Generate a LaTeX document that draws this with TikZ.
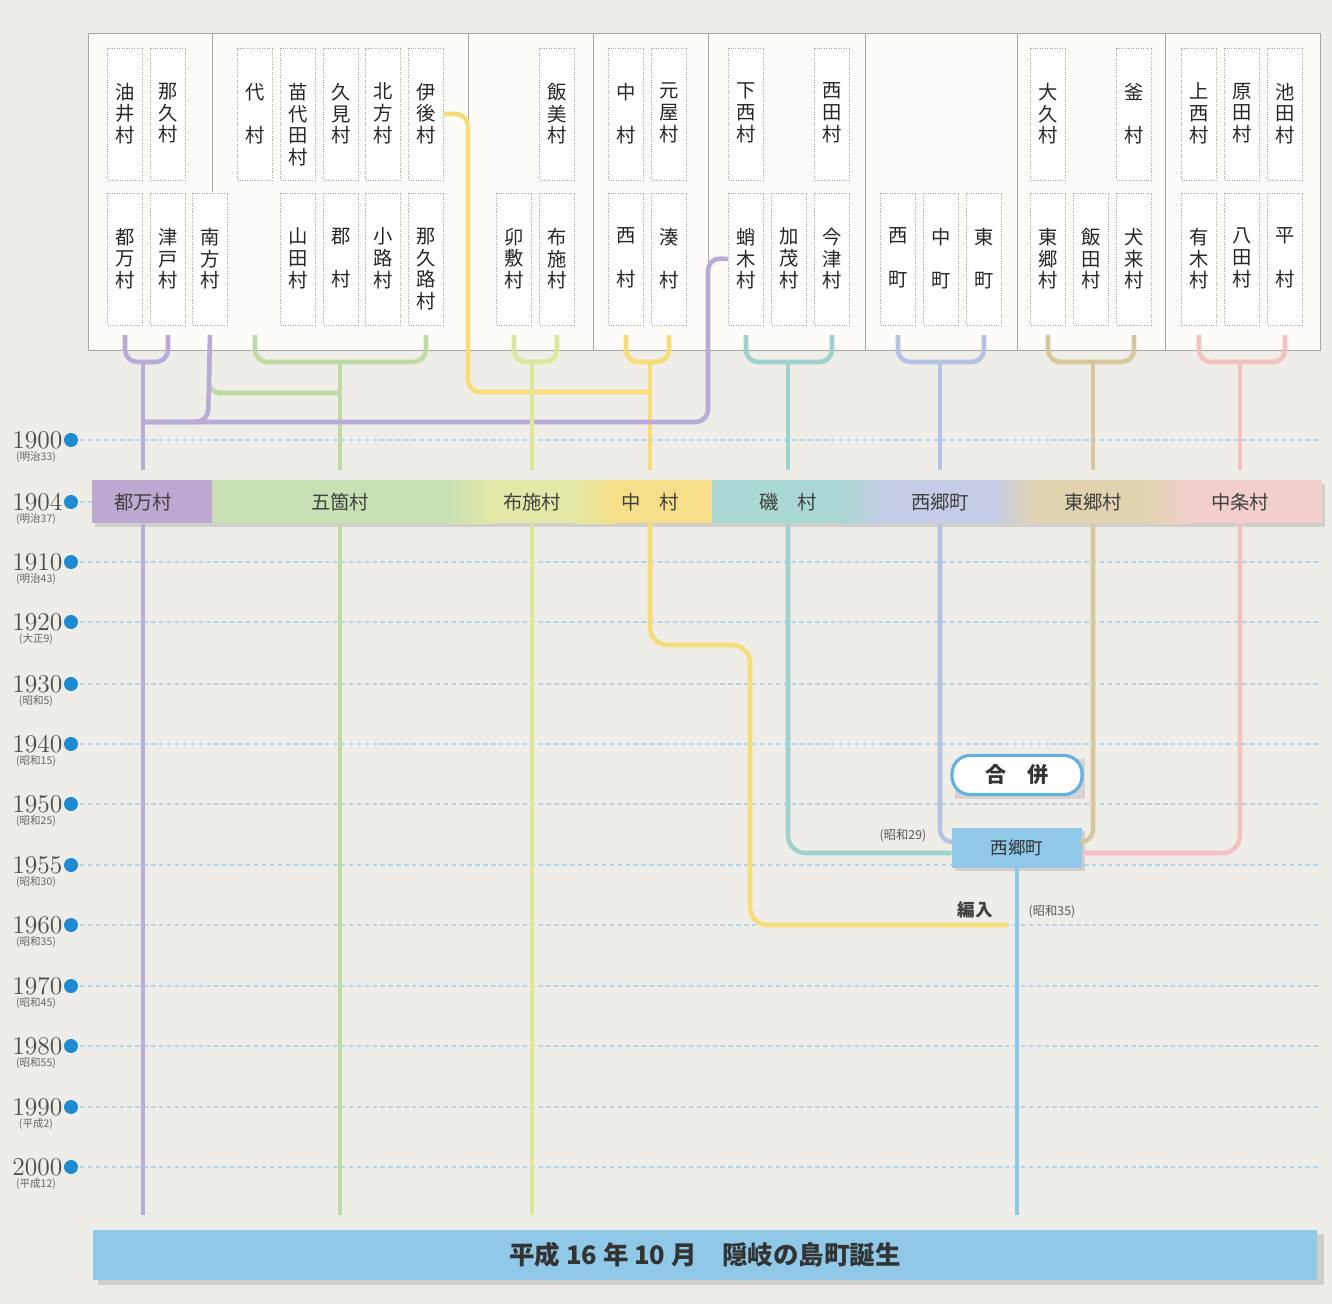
\documentclass[tikz,border=0pt]{standalone}
\usepackage{fontspec}
\newfontfamily\jp{Noto Sans CJK JP}
\usetikzlibrary{calc,positioning}

\definecolor{bgc}{HTML}{EFEDE8}
\definecolor{panelc}{HTML}{FDFCF8}
\definecolor{framec}{HTML}{A8A59E}
\definecolor{tsumaL}{HTML}{B9AAD6}
\definecolor{tsumaB}{HTML}{BBA9D2}
\definecolor{gokaL}{HTML}{BFDBA3}
\definecolor{gokaB}{HTML}{C8E0B4}
\definecolor{fuseL}{HTML}{DFE69B}
\definecolor{fuseB}{HTML}{E4E8A6}
\definecolor{nakaL}{HTML}{F6DD78}
\definecolor{nakaB}{HTML}{F7DE88}
\definecolor{isoL}{HTML}{9FD1CD}
\definecolor{isoB}{HTML}{AAD8D3}
\definecolor{saigoL}{HTML}{B6C2E2}
\definecolor{saigoB}{HTML}{C5CDE6}
\definecolor{togoL}{HTML}{D6C89C}
\definecolor{togoB}{HTML}{E2D3AF}
\definecolor{chujoL}{HTML}{F1C2C0}
\definecolor{chujoB}{HTML}{F2CFCD}
\definecolor{okiL}{HTML}{8CC8E8}
\definecolor{okiB}{HTML}{8FC9E7}
\definecolor{dotc}{HTML}{1D8AD2}
\definecolor{gridc}{HTML}{B0D5EA}

\tikzset{
  vill/.style={draw=black!35, densely dotted, fill=white, minimum width=0.7cm, minimum height=2.64cm, inner sep=0, label={[vtext]north:{#1}}},
  vtext/.style={anchor=north, yshift=-0.7cm, inner sep=0, align=center, font=\jp\fontsize{11}{12.4}\selectfont, text=black!85},
  ln/.style={line width=2.6pt, draw=#1, rounded corners=7pt},
  yline/.style={draw=gridc, line width=0.7pt, dash pattern=on 2.5pt off 2pt},
  ydot/.style={circle, fill=dotc, minimum size=0.28cm, inner sep=0},
  ylab/.style={font=\fontsize{14.5}{14.5}\selectfont, text=black!70, inner sep=0.5pt},
  elab/.style={font=\jp\fontsize{6}{6}\selectfont, text=black!60, inner sep=0},
  barlab/.style={font=\jp\fontsize{11}{11}\selectfont, text=black!75, minimum height=0.86cm, inner sep=0},
  note/.style={font=\jp\fontsize{7}{7}\selectfont, text=black!65, inner sep=0},
}

\begin{document}
\begin{tikzpicture}[x=0.02cm,y=-0.02cm]

\fill[bgc] (0,0) rectangle (1332,1304);
\useasboundingbox (0,0) rectangle (1332,1304);

% year rows
\foreach \yy/\yr/\era in {440/1900/明治33,502/1904/明治37,562/1910/明治43,622/1920/大正9,684/1930/昭和5,744/1940/昭和15,804/1950/昭和25,865/1955/昭和30,925/1960/昭和35,986/1970/昭和45,1046/1980/昭和55,1107/1990/平成2,1167/2000/平成12}{
  \draw[yline] (80,\yy) -- (1318,\yy);
  \node[ydot] (d\yr) at (71,\yy) {};
  \node[ylab, anchor=east] (t\yr) at (d\yr.west) {\yr};
  \node[elab] (e\yr) at (36,\yy+17) {(\era)};
}

% village panel
\draw[framec, fill=panelc] (88,33) rectangle (1320,350);
\draw[framec] (212,33) -- (212,192);
\foreach \xx in {468,593,708,865,1017,1165}
  \draw[framec] (\xx,33) -- (\xx,350);

\node[vill={油\\井\\村}] (yui) at (125,114) {};
\node[vill={那\\久\\村}] (naku) at (168,114) {};
\node[vill={都\\万\\村}] (tsuma) at (125,259) {};
\node[vill={津\\戸\\村}] (tsudo) at (168,259) {};
\node[vill={南\\方\\村}] (minami) at (210,259) {};

\node[vill={代\\[12.4pt]村}] (dai) at (255,114) {};
\node[vill={苗\\代\\田\\村}] (nawashiro) at (298,114) {};
\node[vill={久\\見\\村}] (kumi) at (341,114) {};
\node[vill={北\\方\\村}] (kitagata) at (383,114) {};
\node[vill={伊\\後\\村}] (igo) at (426,114) {};
\node[vill={山\\田\\村}] (yamada) at (298,259) {};
\node[vill={郡\\[12.4pt]村}] (kori) at (341,259) {};
\node[vill={小\\路\\村}] (shoji) at (383,259) {};
\node[vill={那\\久\\路\\村}] (nakuji) at (426,259) {};

\node[vill={飯\\美\\村}] (iibi) at (557,114) {};
\node[vill={卯\\敷\\村}] (ubuka) at (514,259) {};
\node[vill={布\\施\\村}] (fuse) at (557,259) {};

\node[vill={中\\[12.4pt]村}] (naka) at (626,114) {};
\node[vill={元\\屋\\村}] (motoya) at (669,114) {};
\node[vill={西\\[12.4pt]村}] (nishi) at (626,259) {};
\node[vill={湊\\[12.4pt]村}] (minato) at (669,259) {};

\node[vill={下\\西\\村}] (shimonishi) at (746,114) {};
\node[vill={西\\田\\村}] (nishida) at (832,114) {};
\node[vill={蛸\\木\\村}] (takogi) at (746,259) {};
\node[vill={加\\茂\\村}] (kamo) at (789,259) {};
\node[vill={今\\津\\村}] (imazu) at (832,259) {};

\node[vill={西\\[12.4pt]町}] (nishimachi) at (898,259) {};
\node[vill={中\\[12.4pt]町}] (nakamachi) at (941,259) {};
\node[vill={東\\[12.4pt]町}] (higashimachi) at (984,259) {};

\node[vill={大\\久\\村}] (oku) at (1048,114) {};
\node[vill={釜\\[12.4pt]村}] (kama) at (1134,114) {};
\node[vill={東\\郷\\村}] (togo) at (1048,259) {};
\node[vill={飯\\田\\村}] (iida) at (1091,259) {};
\node[vill={犬\\来\\村}] (inukuru) at (1134,259) {};

\node[vill={上\\西\\村}] (kaminishi) at (1199,114) {};
\node[vill={原\\田\\村}] (harada) at (1242,114) {};
\node[vill={池\\田\\村}] (ikeda) at (1285,114) {};
\node[vill={有\\木\\村}] (ariki) at (1199,259) {};
\node[vill={八\\田\\村}] (hatta) at (1242,259) {};
\node[vill={平\\[12.4pt]村}] (taira) at (1285,259) {};

% 1904 bar
\fill[black!40, opacity=.35] (95,484) rectangle (1325,527);
\fill[tsumaB] (92,480) rectangle (212,523);
\fill[gokaB] (212,480) rectangle (470,523);
\fill[fuseB] (470,480) rectangle (595,523);
\fill[nakaB] (595,480) rectangle (712,523);
\fill[isoB] (712,480) rectangle (862,523);
\fill[saigoB] (862,480) rectangle (1015,523);
\fill[togoB] (1015,480) rectangle (1168,523);
\fill[chujoB] (1168,480) rectangle (1322,523);
\shade[left color=gokaB, right color=fuseB] (445,480) rectangle (495,523);
\shade[left color=fuseB, right color=nakaB] (575,480) rectangle (615,523);
\shade[left color=isoB, right color=saigoB] (840,480) rectangle (885,523);
\shade[left color=saigoB, right color=togoB] (995,480) rectangle (1035,523);
\shade[left color=togoB, right color=chujoB] (1148,480) rectangle (1188,523);

\node[barlab] (bTsuma) at (143,502) {都万村};
\node[barlab] (bGoka) at (340,502) {五箇村};
\node[barlab] (bFuse) at (532,502) {布施村};
\node[barlab] (bNaka) at (650,502) {中\quad 村};
\node[barlab] (bIso) at (788,502) {磯\quad 村};
\node[barlab] (bSaigo) at (940,502) {西郷町};
\node[barlab] (bTogo) at (1093,502) {東郷村};
\node[barlab] (bChujo) at (1240,502) {中条村};

% joins under the panel
\coordinate (jTsuma) at (143,362);
\coordinate (jGoka) at (340,362);
\coordinate (jFuse) at (532,362);
\coordinate (jNaka) at (650,362);
\coordinate (jIso) at (788,362);
\coordinate (jSaigo) at (940,362);
\coordinate (jTogo) at (1093,362);
\coordinate (jChujo) at (1240,362);

\draw[ln=gokaL] (minami |- 0,362) -- (208,393) -- (jGoka |- 0,393); % 南方 to 五箇
\draw[ln=gokaL] (dai |- 0,335) -- (dai |- jGoka) -- (nakuji |- jGoka) -- (nakuji |- 0,335);
\draw[ln=gokaL] (jGoka) -- ($(bGoka.north)+(0,-10)$);

\draw[ln=nakaL] (igo.east) -- (468,114) -- (468,392) -- (jNaka |- 0,392); % 伊後 to 中村
\draw[ln=nakaL] (naka |- 0,335) -- (naka |- jNaka) -- (motoya |- jNaka) -- (motoya |- 0,335);
\draw[ln=nakaL] (jNaka) -- ($(bNaka.north)+(0,-10)$);

\draw[ln=tsumaL] (takogi.west) -- (708,258) -- (708,422) -- (jTsuma |- 0,422); % 蛸木 to 都万
\draw[ln=tsumaL] (minami |- 0,335) -- (208,422) -- (jTsuma |- 0,422);
\draw[ln=tsumaL] (tsuma |- 0,335) -- (tsuma |- jTsuma) -- (tsudo |- jTsuma) -- (tsudo |- 0,335);
\draw[ln=tsumaL] (jTsuma) -- ($(bTsuma.north)+(0,-10)$);

\draw[ln=fuseL] (ubuka |- 0,335) -- (ubuka |- jFuse) -- (fuse |- jFuse) -- (fuse |- 0,335);
\draw[ln=fuseL] (jFuse) -- ($(bFuse.north)+(0,-10)$);

\draw[ln=isoL] (takogi |- 0,335) -- (takogi |- jIso) -- (imazu |- jIso) -- (imazu |- 0,335);
\draw[ln=isoL] (jIso) -- ($(bIso.north)+(0,-10)$);

\draw[ln=saigoL] (nishimachi |- 0,335) -- (nishimachi |- jSaigo) -- (higashimachi |- jSaigo) -- (higashimachi |- 0,335);
\draw[ln=saigoL] (jSaigo) -- ($(bSaigo.north)+(0,-10)$);

\draw[ln=togoL] (togo |- 0,335) -- (togo |- jTogo) -- (inukuru |- jTogo) -- (inukuru |- 0,335);
\draw[ln=togoL] (jTogo) -- ($(bTogo.north)+(0,-10)$);

\draw[ln=chujoL] (ariki |- 0,335) -- (ariki |- jChujo) -- (taira |- jChujo) -- (taira |- 0,335);
\draw[ln=chujoL] (jChujo) -- ($(bChujo.north)+(0,-10)$);

% merged town box
\fill[black!40, opacity=.35] (955,831) rectangle (1085,871);
\node[fill=okiB, minimum width=2.6cm, minimum height=0.8cm, inner sep=0, font=\jp\fontsize{10}{10}\selectfont, text=black!80] (sgBox) at (1017,848) {西郷町};

% lines after 1904
\coordinate (eTsuma) at (143,1215);
\coordinate (eGoka) at (340,1215);
\coordinate (eFuse) at (532,1215);
\coordinate (eHennyu) at (1008,925);
\coordinate (eOki) at (1017,1215);

\draw[ln=tsumaL] (bTsuma.south) -- (eTsuma);
\draw[ln=gokaL] (bGoka.south) -- (eGoka);
\draw[ln=fuseL] (bFuse.south) -- (eFuse);
\draw[ln=nakaL, rounded corners=10pt] (bNaka.south) -- (650,645) -- (750,645) -- (750,925) -- (eHennyu);
\draw[ln=isoL, rounded corners=10pt] (bIso.south) |- ($(sgBox.west)+(0,5)$);
\draw[ln=saigoL] (bSaigo.south) |- ($(sgBox.west)+(0,-6)$);
\draw[ln=togoL] (bTogo.south) |- ($(sgBox.east)+(0,-6)$);
\draw[ln=chujoL, rounded corners=10pt] (bChujo.south) |- ($(sgBox.east)+(0,5)$);
\draw[ln=okiL] (sgBox.south) -- (eOki);

\fill[black!40, opacity=.3] (955,759) rectangle (1085,799);
\node[draw=okiB!60!dotc, line width=1.8pt, fill=white, rounded corners=0.36cm, minimum width=2.6cm, minimum height=0.78cm, font=\jp\bfseries\fontsize{12}{12}\selectfont, text=black!80] (gappei) at (1017,775) {合\quad 併};

\node[note] (s29) at (903,836) {(昭和29)};
\node[font=\jp\bfseries\fontsize{10}{10}\selectfont, text=black!75, inner sep=0] (hennyu) at (975,910) {編入};
\node[note] (s35) at (1052,912) {(昭和35)};

% Heisei 16
\fill[black!40, opacity=.35] (98,1234) rectangle (1324,1285);
\node[fill=okiB, minimum width=24.5cm, minimum height=1cm, inner sep=0, font=\jp\bfseries\fontsize{14.5}{14.5}\selectfont, text=black!80] (oki) at (705,1255) {平成 16 年 10 月　隠岐の島町誕生};

\end{tikzpicture}
\end{document}
